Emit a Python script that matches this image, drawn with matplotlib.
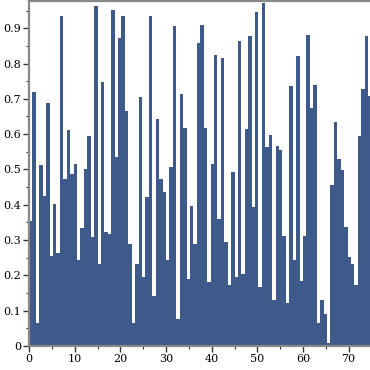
import matplotlib

matplotlib.use("Agg")
import matplotlib.pyplot as plt
import numpy as np
from matplotlib.ticker import MultipleLocator

# bar heights, left to right
values = [
    0.355, 0.719, 0.066, 0.512, 0.425, 0.688, 0.255, 0.402, 0.263, 0.934,
    0.473, 0.611, 0.488, 0.515, 0.244, 0.333, 0.501, 0.594, 0.309, 0.962,
    0.232, 0.747, 0.324, 0.318, 0.951, 0.536, 0.872, 0.934, 0.665, 0.289,
    0.066, 0.232, 0.705, 0.196, 0.422, 0.934, 0.142, 0.642, 0.473, 0.436,
    0.244, 0.507, 0.906, 0.076, 0.713, 0.618, 0.191, 0.396, 0.290, 0.858,
    0.909, 0.618, 0.181, 0.515, 0.824, 0.359, 0.815, 0.294, 0.173, 0.492,
    0.196, 0.864, 0.204, 0.615, 0.877, 0.393, 0.945, 0.168, 0.971, 0.564,
    0.597, 0.131, 0.567, 0.555, 0.312, 0.123, 0.736, 0.244, 0.821, 0.185,
    0.312, 0.881, 0.675, 0.739, 0.064, 0.131, 0.092, 0.009, 0.456, 0.633,
    0.529, 0.498, 0.337, 0.252, 0.232, 0.173, 0.594, 0.727, 0.877, 0.708,
]
x_ticks = [0, 10, 20, 30, 40, 50, 60, 70]
y_ticks = [0, 0.1, 0.2, 0.3, 0.4, 0.5, 0.6, 0.7, 0.8, 0.9]
y_tick_labels = ["0", "0.1", "0.2", "0.3", "0.4", "0.5", "0.6", "0.7", "0.8", "0.9"]

BAR_WIDTH = 0.75
BAR_COLOR = "#3e5a8a"
SPINE_COLOR = "#888888"

plt.rcParams["font.family"] = ["DejaVu Serif"]

fig = plt.figure(figsize=(3.7, 3.7), dpi=100)
ax = fig.add_axes([29.0 / 370, 24.0 / 370, 342.5 / 370, 345.0 / 370])

positions = np.arange(len(values)) * BAR_WIDTH
ax.bar(
    positions,
    values,
    width=BAR_WIDTH,
    align="edge",
    color=BAR_COLOR,
    linewidth=0,
    antialiased=False,
)

ax.set_xlim(0, len(values) * BAR_WIDTH)
ax.set_ylim(0, 0.977)

ax.set_xticks(x_ticks)
ax.set_xticklabels([str(t) for t in x_ticks])
ax.set_yticks(y_ticks)
ax.set_yticklabels(y_tick_labels)
ax.xaxis.set_minor_locator(MultipleLocator(5))
ax.yaxis.set_minor_locator(MultipleLocator(0.05))

ax.tick_params(axis="both", which="major", direction="out", length=4,
               width=1, color="#333333", labelsize=8, pad=1.5)
ax.tick_params(axis="both", which="minor", direction="out", length=2.5,
               width=0.8, color="#333333")

for side in ("left", "bottom", "top"):
    ax.spines[side].set_color(SPINE_COLOR)
    ax.spines[side].set_linewidth(1.6)
ax.spines["right"].set_visible(False)

fig.savefig("out.png", dpi=100)
plt.close(fig)
